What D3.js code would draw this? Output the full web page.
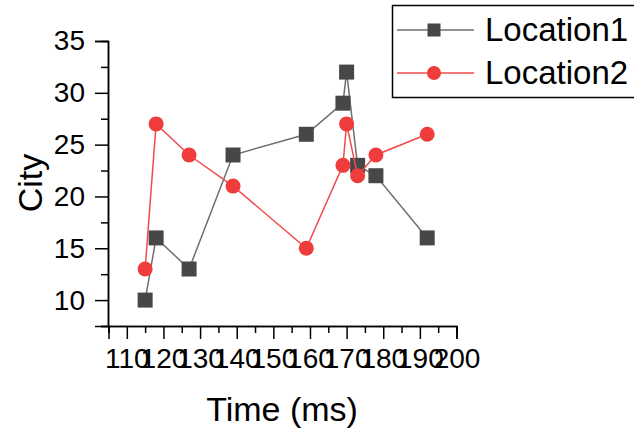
<!DOCTYPE html>
<html><head><meta charset="utf-8">
<script src="https://cdn.jsdelivr.net/npm/d3@7"></script>
<style>html,body{margin:0;padding:0;background:#fff;overflow:hidden}svg{display:block}text{font-family:"Liberation Sans",Arial,sans-serif;fill:#000}</style>
</head><body><svg id="c" width="634" height="433"></svg>
<script>
const timeMs = [115, 118, 127, 139, 159, 169, 170, 173, 178, 192];
const location1 = [10, 16, 13, 24, 26, 29, 32, 23, 22, 16];
const location2 = [13, 27, 24, 21, 15, 23, 27, 22, 24, 26];
const seriesNames = ["Location1", "Location2"];
const xMajorTicks = [110, 120, 130, 140, 150, 160, 170, 180, 190, 200];
const xMinorTicks = [105, 115, 125, 135, 145, 155, 165, 175, 185, 195];
const yMajorTicks = [10, 15, 20, 25, 30, 35];
const yMinorTicks = [7.5, 12.5, 17.5, 22.5, 27.5, 32.5];

const svg = d3.select("#c");
const x = d3.scaleLinear().domain([105, 200]).range([108.5, 456.5]);
const y = d3.scaleLinear().domain([7.5, 35]).range([326, 41]);

const colors = {l1Line: "#6e6e6e", l1Fill: "#474747", l2Line: "#f24b4b", l2Fill: "#ef3d3d"};

// axes
const gx = svg.append("g").attr("transform", "translate(0,326)");
gx.call(d3.axisBottom(x).tickValues(xMinorTicks).tickSize(7).tickFormat(""));
gx.call(g => g.append("g").call(d3.axisBottom(x).tickValues(xMajorTicks).tickSize(13).tickPadding(9).tickFormat(d3.format("d"))));
gx.selectAll("path.domain").attr("stroke", "#000").attr("stroke-width", 1.5);
gx.selectAll("line").attr("stroke", "#000").attr("stroke-width", 1.5);
gx.selectAll("text").style("font-size", "28px").attr("fill", "#000").attr("font-family", "Liberation Sans, Arial, sans-serif");

const gy = svg.append("g").attr("transform", "translate(108,0)");
gy.call(d3.axisLeft(y).tickValues(yMinorTicks).tickSize(7).tickFormat(""));
gy.call(g => g.append("g").call(d3.axisLeft(y).tickValues(yMajorTicks).tickSize(13).tickPadding(10).tickFormat(d3.format("d"))));
gy.selectAll("path.domain").attr("stroke", "#000").attr("stroke-width", 1.5);
gy.selectAll("line").attr("stroke", "#000").attr("stroke-width", 1.5);
gy.selectAll("text").style("font-size", "28px").attr("fill", "#000").attr("font-family", "Liberation Sans, Arial, sans-serif");

// titles
svg.append("text").attr("x", 282).attr("y", 421).attr("text-anchor", "middle").style("font-size", "34px").text("Time (ms)");
svg.append("text").attr("transform", "translate(42,183) rotate(-90)").attr("text-anchor", "middle").style("font-size", "34px").text("City");

// series
const d1 = timeMs.map((t, i) => [t, location1[i]]);
const d2 = timeMs.map((t, i) => [t, location2[i]]);
const line = d3.line().x(d => x(d[0])).y(d => y(d[1]));
const ms = 15;

svg.append("path").datum(d1).attr("d", line).attr("fill", "none").attr("stroke", colors.l1Line).attr("stroke-width", 1.5);
svg.append("g").selectAll("rect").data(d1).join("rect")
  .attr("x", d => x(d[0]) - ms / 2).attr("y", d => y(d[1]) - ms / 2)
  .attr("width", ms).attr("height", ms).attr("fill", colors.l1Fill);

svg.append("path").datum(d2).attr("d", line).attr("fill", "none").attr("stroke", colors.l2Line).attr("stroke-width", 1.5);
svg.append("g").selectAll("circle").data(d2).join("circle")
  .attr("cx", d => x(d[0])).attr("cy", d => y(d[1])).attr("r", ms / 2).attr("fill", colors.l2Fill);

// legend
const lg = svg.append("g");
lg.append("rect").attr("x", 392.5).attr("y", 5.5).attr("width", 260).attr("height", 92).attr("fill", "#fff").attr("stroke", "#000").attr("stroke-width", 1.5);
const rows = [
  {name: seriesNames[0], line: colors.l1Line, fill: colors.l1Fill, shape: "square", yy: 30},
  {name: seriesNames[1], line: colors.l2Line, fill: colors.l2Fill, shape: "circle", yy: 73}
];
rows.forEach(r => {
  lg.append("line").attr("x1", 397).attr("x2", 474).attr("y1", r.yy).attr("y2", r.yy).attr("stroke", r.line).attr("stroke-width", 1.5);
  if (r.shape === "square") lg.append("rect").attr("x", 434 - 6.5).attr("y", r.yy - 6.5).attr("width", 13).attr("height", 13).attr("fill", r.fill);
  else lg.append("circle").attr("cx", 434).attr("cy", r.yy).attr("r", 7).attr("fill", r.fill);
  lg.append("text").attr("x", 485).attr("y", r.yy + 11).style("font-size", "33px").text(r.name);
});
</script></body></html>
